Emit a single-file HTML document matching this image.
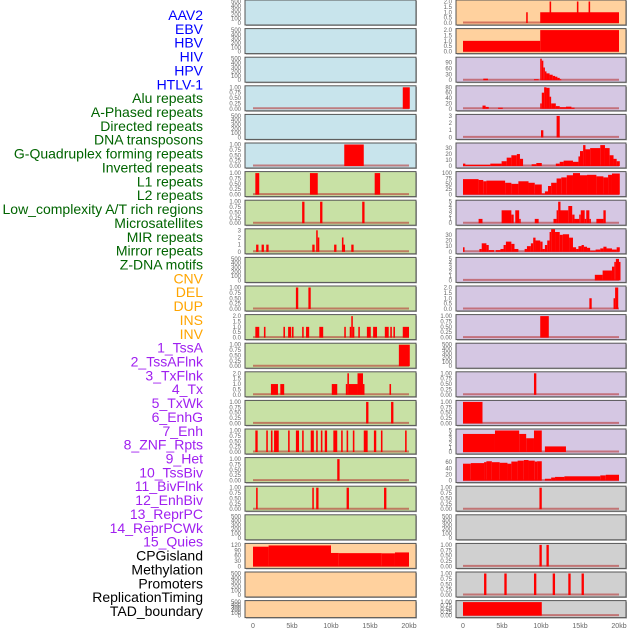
<!DOCTYPE html>
<html><head><meta charset="utf-8">
<style>
body{margin:0;background:#fff;width:630px;height:630px;overflow:hidden;font-family:"Liberation Sans",sans-serif}
svg{display:block}
</style></head><body>
<svg id="chart" width="630" height="630"></svg>
<script>
const labels=["AAV2","EBV","HBV","HIV","HPV","HTLV-1","Alu repeats","A-Phased repeats","Directed repeats","DNA transposons","G-Quadruplex forming repeats","Inverted repeats","L1 repeats","L2 repeats","Low_complexity A/T rich regions","Microsatellites","MIR repeats","Mirror repeats","Z-DNA motifs","CNV","DEL","DUP","INS","INV","1_TssA","2_TssAFlnk","3_TxFlnk","4_Tx","5_TxWk","6_EnhG","7_Enh","8_ZNF_Rpts","9_Het","10_TssBiv","11_BivFlnk","12_EnhBiv","13_ReprPC","14_ReprPCWk","15_Quies","CPGisland","Methylation","Promoters","ReplicationTiming","TAD_boundary"];
const labelGroups=[6,13,5,15,5];
const groupColors=["#0000ff","#006400","#ffa500","#a020f0","#000000"];
const xTicks=[0,5,10,15,20];
const xTickLabels=["0","5kb","10kb","15kb","20kb"];
const leftBg=["b","b","b","b","b","b","g","g","g","g","g","g","g","g","g","g","g","g","g","o","o","o"];
const rightBg=["o","o","p","p","p","p","p","p","p","p","p","p","p","p","p","p","p","y","y","y","y","y"];
const leftMax=[500,500,500,1,500,1,1,1,3,500,1,2,1,2,1,1,1,1,500,120,500,500];
const rightMax=[2,2,110,80,3,36,100,5,38,5,2,1,500,1,1,5,70,1,500,1,1,1];
const L3=[[19.2,20.1,1]];
const L5=[[11.7,14.2,1]];
const L6=[[0.3,0.8,1],[7.3,8.3,1],[15.6,16.3,1]];
const L7=[[6.3,6.6,1],[8.6,8.9,1],[14.0,14.3,1]];
const L8=[[0.4,0.7,1],[1.1,1.4,1],[1.7,2.0,1],[7.6,7.9,1],[8.1,8.3,3],[8.3,8.5,2],[10.4,10.7,1],[11.4,11.6,2],[11.6,11.8,1],[12.6,12.9,1]];
const L10=[[5.5,5.8,1],[7.1,7.4,1]];
const L11=[[0.3,0.8,1],[1.4,1.6,1],[3.9,4.1,1],[4.5,4.9,1],[5.0,5.2,1],[6.3,6.5,1],[6.8,7.2,1],[8.5,9.0,1],[11.7,11.9,1],[12.4,12.6,1],[12.6,12.8,2],[12.8,12.9,1],[13.5,13.7,1],[14.6,15.1,1],[15.4,15.9,1],[16.9,17.4,1],[17.6,17.8,1],[18.0,18.2,1],[19.2,20.0,1]];
const L12=[[18.7,20.1,1]];
const L13=[[2.3,3.2,1],[3.5,4.0,1],[10.1,10.8,1],[11.9,12.1,1],[12.1,12.3,2],[12.3,13.4,1],[13.4,14.1,2],[14.1,14.2,1],[17.5,17.7,1]];
const L14=[[14.5,14.8,1],[17.7,18.0,1]];
const L15=[[0.3,0.6,1],[1.7,1.9,1],[2.3,2.5,1],[2.7,3.3,1],[4.5,4.7,1],[5.5,5.9,1],[6.3,6.5,1],[7.4,7.8,1],[8.1,8.3,1],[8.7,8.9,1],[9.2,9.5,1],[10.3,10.8,1],[11.3,11.5,1],[12.0,12.2,1],[12.8,13.0,1],[14.2,14.7,1],[15.5,15.8,1],[16.4,16.6,1],[19.5,19.7,1]];
const L16=[[10.8,11.1,1]];
const L17=[[0.4,0.6,1],[7.6,7.8,1],[8.1,8.4,1],[12.0,12.3,1],[16.8,17.1,1]];
const L19=[[0,2,110],[2,10,117],[10,11,75],[11,16.5,74],[16.5,18.2,73],[18.2,20,78]];
const R0=[[8.1,8.3,1],[9.9,20,1],[11.1,11.3,2],[14.6,14.8,2],[16.1,16.3,2]];
const R1=[[0,9.9,1],[9.9,20,2]];
const R2=[[2.6,3.2,8],[9.1,9.7,5],[9.9,10.1,110],[10.1,10.3,100],[10.3,10.5,65],[10.5,10.7,45],[10.7,11.1,35],[11.1,11.5,28],[11.5,11.8,22],[11.8,12.1,18],[12.1,12.4,12],[12.4,12.6,5]];
const R3=[[2.5,2.9,12],[2.9,3.3,7],[4.5,5.1,4],[9.9,10.1,20],[10.1,10.4,60],[10.4,10.7,80],[10.7,11.1,78],[11.1,11.3,45],[11.3,11.9,20],[11.9,12.4,10],[12.4,13.2,6],[13.2,13.9,8],[13.9,14.3,4]];
const R4=[[10.0,10.3,1],[12.0,12.4,3]];
const R5=[[0,0.3,4],[0.3,3.5,2],[3.5,4.95,4],[4.95,5.6,8],[5.6,6.2,14],[6.2,6.9,18],[6.9,7.3,20],[7.3,7.7,12],[8.8,9.4,3],[9.4,10.1,5],[11.9,12.4,4],[12.4,12.9,7],[12.9,14.1,9],[14.1,14.8,7],[14.8,15.0,16],[15.0,15.4,25],[15.4,15.7,35],[15.7,16.3,28],[16.3,17.6,30],[17.6,18.2,35],[18.2,18.8,30],[18.8,19.3,18],[19.3,19.7,12],[19.7,20.1,8]];
const R6=[[0,2.0,72],[2.0,2.6,68],[2.6,3.0,62],[3.0,5.4,65],[5.4,6.2,55],[6.2,7.1,50],[7.1,8.4,62],[8.4,9.2,55],[9.2,10.1,47],[10.1,10.5,5],[10.5,10.9,15],[10.9,11.3,40],[11.3,12.0,55],[12.0,12.6,75],[12.6,13.3,80],[13.3,14.1,90],[14.1,15.0,100],[15.0,15.9,90],[15.9,17.1,92],[17.1,18.0,85],[18.0,18.6,80],[18.6,19.1,92],[19.1,20.1,98]];
const R7=[[2.0,2.5,1],[4.95,6.2,3],[6.2,6.5,2],[6.7,7.2,3],[7.2,7.4,1],[9.2,9.7,1],[11.6,12.0,1],[12.0,12.2,3],[12.2,12.5,5],[12.5,13.5,3],[13.5,14.0,4],[14.0,14.3,2],[14.3,14.9,1],[14.9,15.1,2],[15.1,15.6,3],[15.6,15.8,1],[15.8,16.2,3],[16.2,16.4,1],[17.1,18.0,1],[18.0,18.3,3]];
const R8=[[0,0.2,8],[2.1,2.4,5],[2.4,3.0,15],[3.0,3.3,12],[3.3,3.98,3],[4.2,4.8,3],[4.8,5.2,5],[5.2,5.5,12],[5.5,6.2,18],[6.2,6.6,14],[6.6,7.1,5],[7.9,8.2,5],[8.2,8.7,10],[8.7,9.0,15],[9.0,9.3,25],[9.3,9.9,20],[9.9,10.2,18],[10.2,10.5,5],[10.5,10.8,12],[10.8,11.1,20],[11.1,11.3,35],[11.3,11.8,40],[11.8,12.4,35],[12.4,12.8,30],[12.8,13.6,31],[13.6,14.1,25],[14.1,14.5,8],[14.5,14.8,5],[14.8,15.2,10],[15.2,15.5,12],[15.5,15.9,9],[15.9,16.3,7],[16.3,17.0,2],[17.0,17.6,4],[17.6,18.0,6],[18.0,18.4,9],[18.4,19.1,6],[19.1,19.7,4],[19.7,20.1,8]];
const R9=[[16.9,17.9,1.3],[17.9,19.1,2.3],[19.1,19.4,3.2],[19.4,19.6,4.3],[19.6,20.0,5],[20.0,20.1,4.3]];
const R10=[[16.2,16.5,1],[19.3,19.5,1],[19.5,19.9,2]];
const R11=[[9.9,11.0,1]];
const R13=[[9.1,9.4,1]];
const R14=[[0,2.5,1]];
const R15=[[0,4.1,4.2],[4.1,7.2,5],[7.2,8.1,4.2],[8.1,9.1,3.2],[9.1,10.1,5],[10.5,13.2,1.3]];
const R16=[[0,1.0,55],[1.0,2.7,57],[2.7,3.0,60],[3.0,3.7,63],[3.7,4.7,60],[4.7,5.7,58],[5.7,6.2,55],[6.2,7.0,62],[7.0,7.8,65],[7.8,8.4,67],[8.4,9.2,65],[9.2,9.5,62],[9.5,10.1,63],[10.5,11.3,6],[11.3,11.8,10],[11.8,13.0,12],[13.0,17.6,14],[17.6,18.3,17],[18.3,20.0,19]];
const R17=[[9.8,10.1,1]];
const R19=[[9.8,10.1,1],[10.7,11.0,1]];
const R20=[[2.7,3.0,1],[5.3,5.6,1],[9.1,9.4,1],[11.5,11.8,1],[13.5,13.8,1],[15.2,15.5,1]];
const R21=[[0,10.1,1]];
const leftData={3:L3,5:L5,6:L6,7:L7,8:L8,10:L10,11:L11,12:L12,13:L13,14:L14,15:L15,16:L16,17:L17,19:L19};
const rightData={0:R0,1:R1,2:R2,3:R3,4:R4,5:R5,6:R6,7:R7,8:R8,9:R9,10:R10,11:R11,13:R13,14:R14,15:R15,16:R16,17:R17,19:R19,20:R20,21:R21};
const tickSets={500:[0,100,200,300,400,500],1:[0,0.25,0.5,0.75,1],2:[0,0.5,1,1.5,2],3:[0,1,2,3],5:[0,1,2,3,4,5],110:[0,30,60,90],80:[0,20,40,60,80],36:[0,10,20,30],100:[0,25,50,75,100],38:[0,10,20,30],70:[0,20,40,60],120:[0,30,60,90,120]};
function fmt(m,v){if(m===1)return v.toFixed(2);if(m===2)return v.toFixed(1);return String(v);}

const NS="http://www.w3.org/2000/svg";
const svg=document.getElementById('chart');
function mk(t,a,p){const e=document.createElementNS(NS,t);for(const k in a)e.setAttribute(k,a[k]);(p||svg).appendChild(e);return e;}
const bgColors={b:"#c8e4ec",g:"#c8e1a5",o:"#ffd19e",p:"#d5c7e3",y:"#d0d0d0"};
const cols=[{x:245,w:171,x0:253},{x:456,w:170,x0:463}];
const pxPerKb=7.8;
function xs(c,kb){return cols[c].x0+kb*pxPerKb;}

// labels
let li=0;
labelGroups.forEach((n,g)=>{for(let k=0;k<n;k++){const t=mk('text',{x:203,y:15+li*13.86+5,'text-anchor':'end','font-size':'14',fill:groupColors[g]});t.textContent=labels[li];


li++;}});

for(let r=0;r<22;r++){
  const top=r*28.6, h=(r===21)?17:25;
  for(let c=0;c<2;c++){
    const bg=(c===0?leftBg:rightBg)[r], m=(c===0?leftMax:rightMax)[r];
    const data=(c===0?leftData:rightData)[r];
    const g=mk('g',{});
    
    
    mk('rect',{x:cols[c].x+1,y:top+1,width:cols[c].w,height:h,fill:'#aaa'},g);
    mk('rect',{x:cols[c].x,y:top,width:cols[c].w,height:h,fill:bgColors[bg],stroke:'#555','stroke-width':1},g);
    const y0=top+h-2, y1=top+1.5;
    const ys=v=>y0-(v/m)*(y0-y1);
    const ticks=tickSets[m]||[0,m];
    ticks.forEach(v=>{const t=mk('text',{x:cols[c].x-4,y:ys(v)+2,'text-anchor':'end','font-size':'6',fill:'#666'},g);t.textContent=fmt(m,v);
      
      });
    if(data){
      mk('line',{x1:xs(c,0),x2:xs(c,20),y1:y0-0.5,y2:y0-0.5,stroke:'rgba(180,40,40,0.55)','stroke-width':2},g);
      data.forEach(d=>{const b=mk('rect',{x:xs(c,d[0]),y:ys(d[2]),width:Math.max(1.5,(d[1]-d[0])*pxPerKb),height:y0-ys(d[2]),fill:'#ff0000'},g);
        
        });
    }
  }
}
for(let c=0;c<2;c++){xTicks.forEach((v,i)=>{const t=mk('text',{x:xs(c,v),y:628,'text-anchor':'middle','font-size':'7',fill:'#666'});t.textContent=xTickLabels[i];
  
  });}
</script>
</body></html>
